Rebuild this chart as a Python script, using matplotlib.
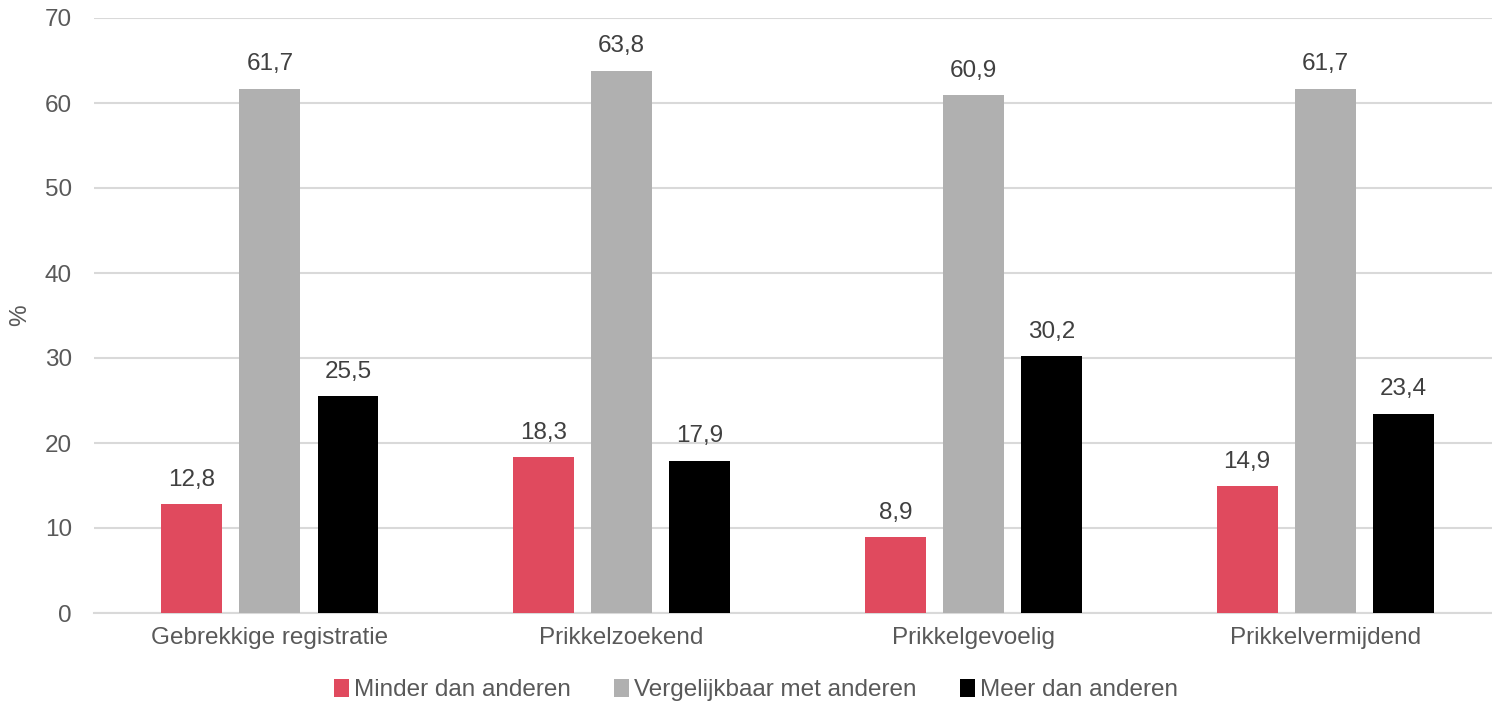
import numpy as np
import matplotlib.pyplot as plt
from matplotlib.patches import Patch

plt.rcParams['font.family'] = ['Liberation Sans', 'DejaVu Sans']

categories = ['Gebrekkige registratie', 'Prikkelzoekend', 'Prikkelgevoelig', 'Prikkelvermijdend']
series_names = ['Minder dan anderen', 'Vergelijkbaar met anderen', 'Meer dan anderen']
minder = [12.8, 18.3, 8.9, 14.9]
vergelijkbaar = [61.7, 63.8, 60.9, 61.7]
meer = [25.5, 17.9, 30.2, 23.4]
colors = ['#E04A5E', '#B0B0B0', '#000000']

fig = plt.figure(figsize=(14.92, 7.05), dpi=100)
ax = fig.add_axes([94 / 1492, 92 / 705, 1 - 94 / 1492, 595 / 705])

x = np.arange(len(categories))
width = 0.173
step = 0.222
for i, (vals, col) in enumerate(zip([minder, vergelijkbaar, meer], colors)):
    bars = ax.bar(x + (i - 1) * step, vals, width, color=col, zorder=3)
    for b, v in zip(bars, vals):
        ax.text(b.get_x() + b.get_width() / 2, v + 1.6, f'{v:.1f}'.replace('.', ','),
                ha='center', va='bottom', fontsize=17.5, color='#404040')

ax.set_ylim(0, 70)
ax.set_yticks(range(0, 71, 10))
ax.set_xlim(-0.5, 3.474)
ax.set_xticks(x)
ax.set_xticklabels(categories)
ax.yaxis.grid(True, color='#D9D9D9', linewidth=1.5, zorder=0)
ax.tick_params(axis='both', length=0, labelsize=17.5, labelcolor='#595959')
ax.tick_params(axis='x', pad=10)
ax.tick_params(axis='y', pad=16)
for s in ['top', 'right', 'left']:
    ax.spines[s].set_visible(False)
ax.spines['bottom'].set_color('#D9D9D9')
ax.spines['bottom'].set_linewidth(1.5)
ax.set_ylabel('%', fontsize=17.5, color='#595959')
ax.yaxis.set_label_coords(-0.045, 0.5)

handles = [Patch(facecolor=c, label=n) for c, n in zip(colors, series_names)]
fig.legend(handles=handles, loc='center', bbox_to_anchor=(756 / 1492, 1 - 690 / 705), ncol=3,
           frameon=False, fontsize=17.5, handlelength=0.6, handleheight=0.8,
           handletextpad=0.2, columnspacing=1.8, labelcolor='#595959')

fig.savefig('out.png', dpi=100)
